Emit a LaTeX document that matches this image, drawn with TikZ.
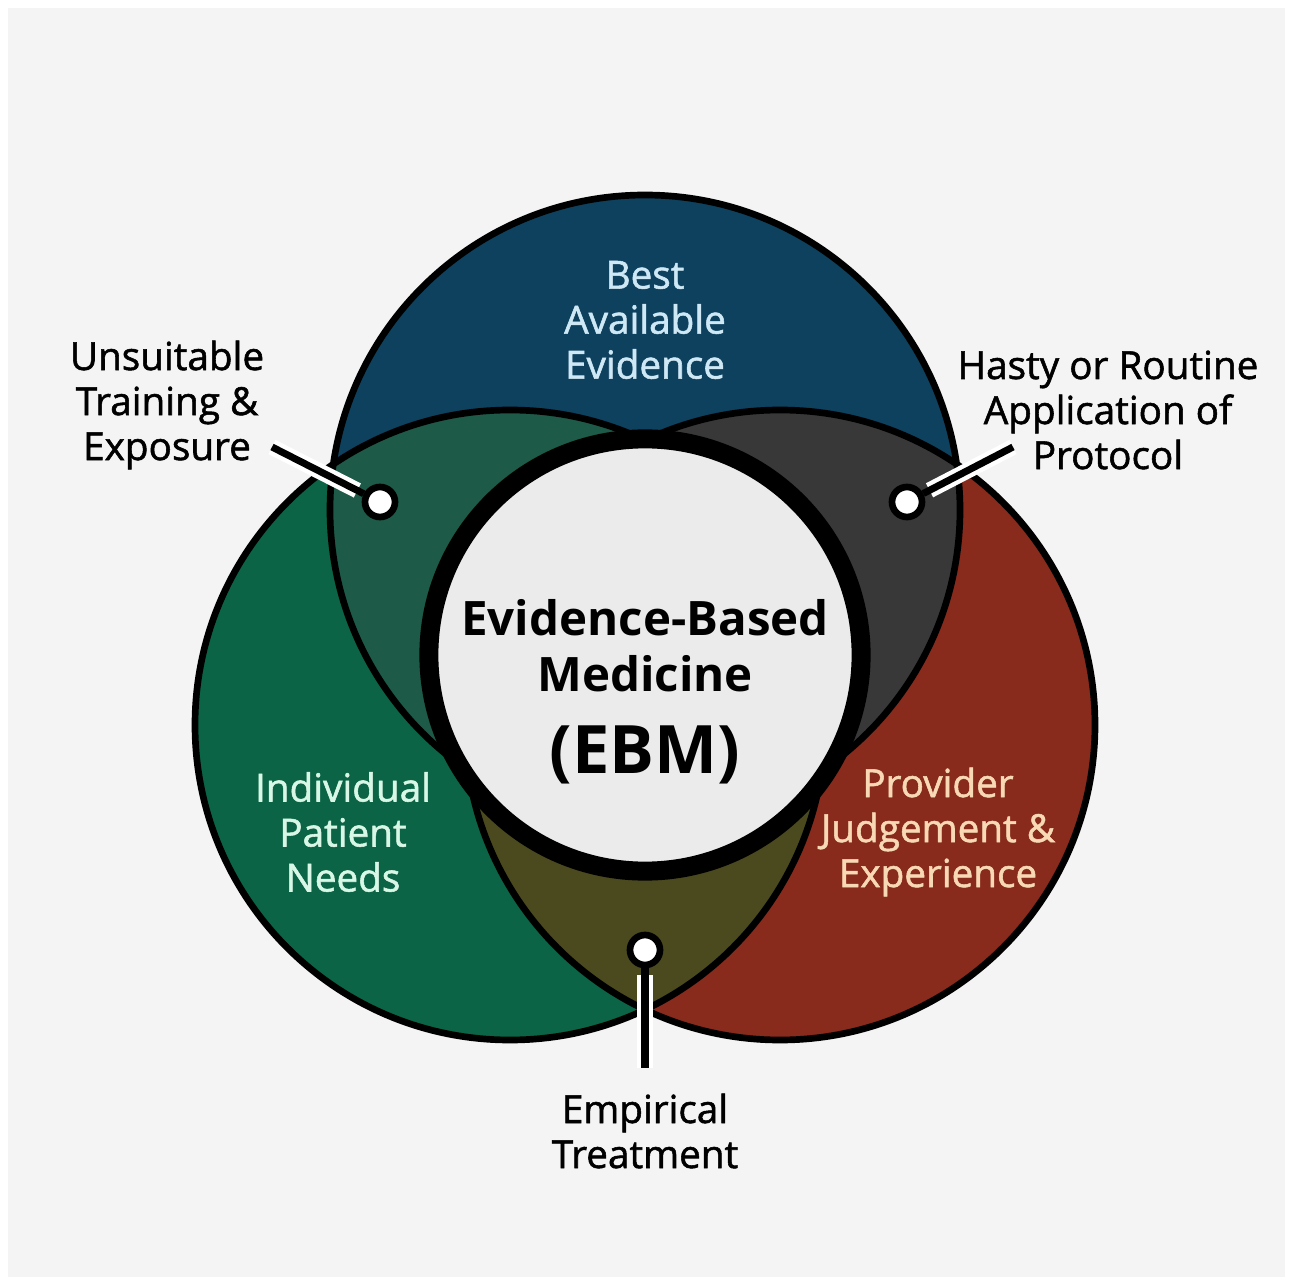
\documentclass[tikz,border=0pt]{standalone}
\usepackage{fontspec}
\setmainfont{Open Sans}
\newfontfamily\semib[FakeBold=1.4]{Open Sans}
\definecolor{bgc}{HTML}{F4F4F4}
\definecolor{cblue}{HTML}{0D415E}
\definecolor{cgreen}{HTML}{0B6446}
\definecolor{cred}{HTML}{882A1C}
\definecolor{cbg}{HTML}{1D5A48}
\definecolor{cbr}{HTML}{383838}
\definecolor{cgr}{HTML}{4B4A1F}
\definecolor{cctr}{HTML}{EBEBEB}
\definecolor{tblue}{HTML}{CFE8F5}
\definecolor{tgreen}{HTML}{D9F7E6}
\definecolor{tred}{HTML}{F8D9B5}
\begin{document}
\begin{tikzpicture}[x=0.01cm,y=-0.01cm,
  ring/.style={draw=black,line width=1.9pt},
  dotnode/.style={circle,draw=black,fill=white,line width=1.9pt,minimum size=0.30cm,inner sep=0pt},
  lbl/.style={align=center,font=\semib\fontsize{11}{12.8}\selectfont,text=black},
  ctr/.style={font=\bfseries\fontsize{13.5}{16}\selectfont,text=black,anchor=base},
  lead/.style={line width=2pt,draw=black},
  casing/.style={line width=4.5pt,draw=white}]
\useasboundingbox (0,0) rectangle (1293,1285);
\fill[white] (0,0) rectangle (1293,1285);
\fill[bgc] (8,8) rectangle (1285,1277);
\coordinate (B) at (645,510);
\coordinate (G) at (510,725);
\coordinate (R) at (780,725);
% circle fills
\fill[cblue] (B) circle[radius=315];
\fill[cgreen] (G) circle[radius=315];
\fill[cred] (R) circle[radius=315];
\begin{scope}
  \clip (B) circle[radius=315];
  \fill[cbg] (G) circle[radius=315];
  \fill[cbr] (R) circle[radius=315];
\end{scope}
\begin{scope}
  \clip (G) circle[radius=315];
  \fill[cgr] (R) circle[radius=315];
\end{scope}
% outlines
\draw[ring] (B) circle[radius=315];
\draw[ring] (G) circle[radius=315];
\draw[ring] (R) circle[radius=315];
% centre circle
\node[circle,draw=black,line width=5.4pt,fill=cctr,minimum size=4.32cm,inner sep=0pt] (ebm) at (645,655) {};
\node[ctr] (ebm1) at (645,636) {Evidence-Based};
\node[ctr] (ebm2) at (645,692) {Medicine};
\node[ctr,font=\bfseries\fontsize{19}{22}\selectfont] (ebm3) at (645,773) {(EBM)};
% inner labels
\node[lbl,text=tblue] (best) at (645,320) {Best\\Available\\Evidence};
\node[lbl,text=tgreen] (indiv) at (343,832) {Individual\\Patient\\Needs};
\node[lbl,text=tred] (prov) at (938,832) {Provider\\Judgement \&\\Experience};
% outer labels
\node[lbl] (unsuit) at (167,405) {Unsuitable\\Training \&\\Exposure};
\node[lbl] (hasty) at (1108,410) {Hasty or Routine\\Application of\\Protocol};
\node[lbl] (empir) at (645,1131) {Empirical\\Treatment};
% dots
\node[dotnode] (dotL) at (380,502) {};
\node[dotnode] (dotR) at (907,502) {};
\node[dotnode] (dotB) at (645,950) {};
\coordinate (eL) at (272,447);
\coordinate (eR) at (1013,447);
\coordinate (eB) at (645,1068);
% leaders
\draw[casing,shorten >=2pt] (eL) -- (dotL);
\draw[lead] (eL) -- (dotL);
\draw[casing,shorten >=2pt] (eR) -- (dotR);
\draw[lead] (eR) -- (dotR);
\draw[casing,shorten <=2pt] (dotB) -- (eB);
\draw[lead] (dotB) -- (eB);
\end{tikzpicture}
\end{document}
